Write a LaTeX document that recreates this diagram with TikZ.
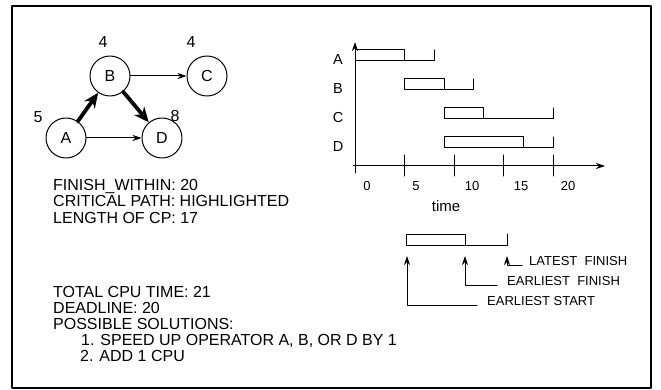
\documentclass[tikz,border=0pt]{standalone}
\usepackage{fontspec}
\setmainfont{Liberation Sans}
\usetikzlibrary{arrows.meta}
\begin{document}
\begin{tikzpicture}[x=1pt, y=-1pt, font=\fontsize{16}{16}\selectfont, line join=round, line cap=round, >=stealth,
	task/.style={draw, circle, minimum size=40pt, inner sep=0pt, line width=1pt},
	crit/.style={line width=3.8pt, -{Stealth[length=15pt,width=13pt]}},
	flow/.style={line width=1pt, -{Stealth[length=9pt,width=6pt]}},
	txt/.style={anchor=base west, inner sep=0pt},
	small/.style={font=\fontsize{13}{13}\selectfont, inner sep=0pt}]
	\def\tz{355} \def\u{9.9} \def\h{11}
	\useasboundingbox (0,0) rectangle (661,390);
	\draw[line width=1.6pt] (12,6) rectangle (651,388);
	% precedence graph
	\node[task] (A) at (66,138) {A};
	\node[task] (B) at (110,76) {B};
	\node[task] (C) at (207,76) {C};
	\node[task] (D) at (162,138) {D};
	\node (wA) at (38,117) {5};
	\node (wB) at (103,42) {4};
	\node (wC) at (191,42) {4};
	\node (wD) at (175,116) {8};
	\draw[flow] (B) -- (C);
	\draw[flow] (A) -- (D);
	\draw[crit] (A) -- (B);
	\draw[crit] (B) -- (D);
	\foreach \t [count=\i] in {FINISH\_WITHIN: 20, CRITICAL PATH: HIGHLIGHTED, LENGTH OF CP: 17}
		\node[txt] (cp\i) at (53,175+16*\i) {\t};
	\foreach \xx/\t [count=\i] in {53/TOTAL CPU TIME: 21, 53/DEADLINE: 20, 53/POSSIBLE SOLUTIONS:, {81/1. SPEED UP OPERATOR A, B, OR D BY 1}, 80/2. ADD 1 CPU}
		\node[txt] (sol\i) at (\xx,281+16*\i) {\t};
	% schedule
	\draw[flow] (\tz,173) -- (\tz,42);
	\draw[flow] (353,166) -- (605,166);
	\foreach \t in {5,10,15,20} \draw[line width=1pt] (\tz+\u*\t,155) -- (\tz+\u*\t,176);
	\foreach \xx/\lab in {367/0,416/5,472/10,521/15,568/20} \node[small] (t\lab) at (\xx,186) {\lab};
	\node[font=\fontsize{15}{15}\selectfont] (time) at (446,206) {time};
	\foreach \yy/\es/\ef/\lf/\n in {50/0/5/8/A,79/5/9/12/B,108/9/13/20/C,137/9/17/20/D}{
		\draw[line width=1pt] (\tz+\u*\es,\yy) rectangle (\tz+\u*\ef,\yy+\h) -- (\tz+\u*\lf,\yy+\h) -- (\tz+\u*\lf,\yy);
		\node[font=\fontsize{14.5}{14.5}\selectfont] (r\n) at (338,\yy+10) {\n};
	}
	% legend
	\draw[line width=1pt] (406,234) rectangle (465,245) -- (507,245) -- (507,234);
	\coordinate (es) at (407,256); \coordinate (ef) at (465,256); \coordinate (lf) at (507,256);
	\node[small, anchor=base west] (lES) at (487,305) {EARLIEST START};
	\node[small, anchor=base west] (lEF) at (507,285) {EARLIEST\ \ FINISH};
	\node[small, anchor=base west] (lLF) at (529,265) {LATEST\ \ FINISH};
	\draw[flow] ([xshift=-10pt]lES.base west) -| (es);
	\draw[flow] ([xshift=-10pt]lEF.base west) -| (ef);
	\draw[flow] ([xshift=-7pt]lLF.base west) -| (lf);
\end{tikzpicture}
\end{document}
